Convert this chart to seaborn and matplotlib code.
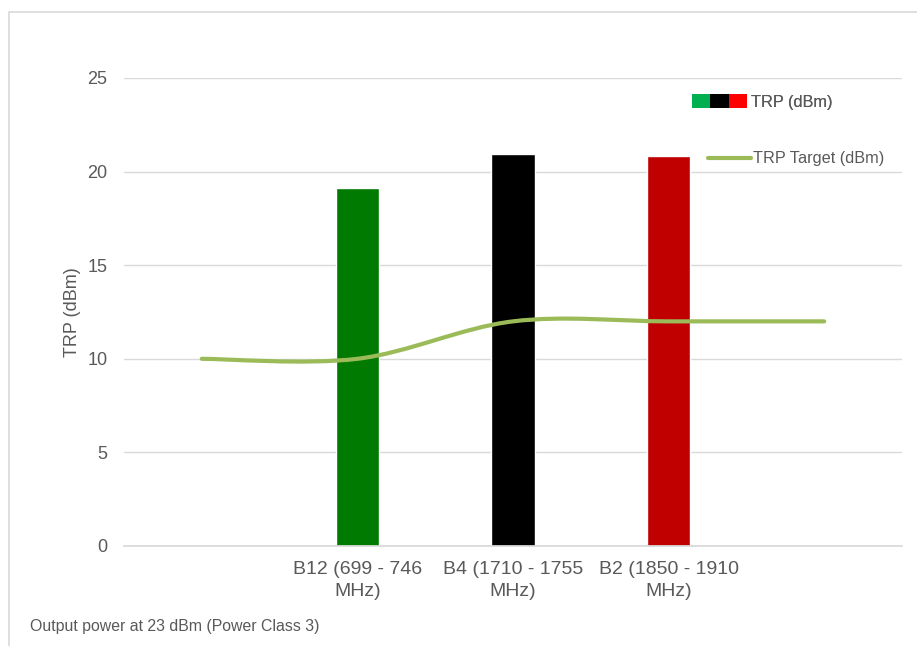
import numpy as np
import pandas as pd
import matplotlib
matplotlib.use("Agg")
import matplotlib.pyplot as plt
import seaborn as sns
from matplotlib.path import Path
from matplotlib.patches import PathPatch, Patch, Rectangle
from matplotlib.lines import Line2D
from matplotlib.legend_handler import HandlerTuple

# chart data
bands = ["B12 (699 - 746\nMHz)", "B4 (1710 - 1755\nMHz)", "B2 (1850 - 1910\nMHz)"]
trp = [19.1, 20.95, 20.85]
bar_colors = ["#007A00", "#000000", "#C00000"]
legend_colors = ["#00B050", "#000000", "#FF0000"]
# the target line spans one empty slot either side of the bands
slots = ["pad_left"] + bands + ["pad_right"]
target = [10, 10, 12, 12, 12]
yticks = [0, 5, 10, 15, 20, 25]

sns.set_theme(style="white")
plt.rcParams["font.family"] = ["Liberation Sans", "DejaVu Sans"]
text_col = "#595959"
grid_col = "#D9D9D9"

W, H = 917, 646
fig = plt.figure(figsize=(W / 100, H / 100), dpi=100)
ax = fig.add_axes([124 / W, 1 - 546 / H, (902 - 124) / W, (546 - 78) / H])

df = pd.DataFrame({"band": bands, "trp": trp})
sns.barplot(data=df, x="band", y="trp", order=slots, hue="band",
            palette=dict(zip(bands, bar_colors)), width=0.28,
            saturation=1, legend=False, ax=ax)

# smoothed line (Excel style) as cubic bezier through the target points
xs = np.arange(len(target), dtype=float)
ys = np.array(target, dtype=float)
px = np.concatenate([[xs[0]], xs, [xs[-1]]])
py = np.concatenate([[ys[0]], ys, [ys[-1]]])
verts = [(xs[0], ys[0])]
codes = [Path.MOVETO]
for i in range(len(xs) - 1):
    j = i + 1
    c1 = (px[j] + (px[j + 1] - px[j - 1]) / 6, py[j] + (py[j + 1] - py[j - 1]) / 6)
    c2 = (px[j + 1] - (px[j + 2] - px[j]) / 6, py[j + 1] - (py[j + 2] - py[j]) / 6)
    verts += [c1, c2, (xs[i + 1], ys[i + 1])]
    codes += [Path.CURVE4] * 3
ax.add_patch(PathPatch(Path(verts, codes), facecolor="none", edgecolor="#9BBB59",
                       lw=3, capstyle="round", zorder=5))

ax.set_xlim(-0.5, 4.5)
ax.set_ylim(0, 25)
ax.set_yticks(yticks)
ax.set_xticks(range(len(slots)))
ax.set_xticklabels([""] + bands + [""], fontsize=14, linespacing=1.34)
ax.yaxis.grid(True, color=grid_col, lw=1)
ax.set_axisbelow(True)
for s in ["top", "right", "left"]:
    ax.spines[s].set_visible(False)
ax.spines["bottom"].set_color(grid_col)
ax.tick_params(axis="both", length=0, colors=text_col)
ax.tick_params(axis="y", pad=12, labelsize=13)
ax.tick_params(axis="x", pad=11)
ax.set_xlabel("")
ax.set_ylabel("TRP (dBm)", color=text_col, fontsize=13)
ax.yaxis.set_label_coords((81 - 124) / 778, 0.5)

# legends
fs = 11.7
px_fs = fs * 100 / 72
bar_handle = tuple(Patch(facecolor=c, edgecolor="none") for c in legend_colors)
leg1 = fig.legend([bar_handle], ["TRP (dBm)"], loc="center left",
                  bbox_to_anchor=(692 / W, 1 - 102 / H), frameon=False, fontsize=fs,
                  handler_map={tuple: HandlerTuple(ndivide=None, pad=0)},
                  handlelength=55 / px_fs, handleheight=15 / px_fs,
                  handletextpad=4 / px_fs, borderpad=0, borderaxespad=0, labelcolor=text_col)
fig.legend([Line2D([], [], color="#9BBB59", lw=3)], ["TRP Target (dBm)"], loc="center left",
           bbox_to_anchor=(708 / W, 1 - 159 / H), frameon=False, fontsize=fs,
           handlelength=43 / px_fs, handletextpad=2 / px_fs, borderpad=0,
           borderaxespad=0, labelcolor=text_col)
fig.add_artist(leg1)

fig.text(30 / W, 1 - 626 / H, "Output power at 23 dBm (Power Class 3)",
         color=text_col, fontsize=11.4, va="center", ha="left")

# chart border
fig.add_artist(Rectangle((9 / W, -0.1), 1.2, 1 - 12 / H + 0.1, transform=fig.transFigure,
                         fill=False, edgecolor=grid_col, lw=1.2))

fig.savefig("out.png", dpi=100)
